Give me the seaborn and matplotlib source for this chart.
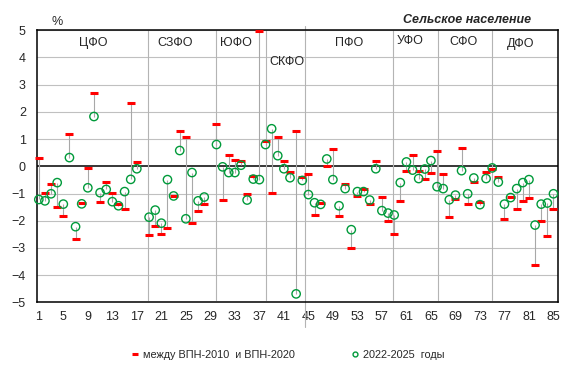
import numpy as np
import pandas as pd
import seaborn as sns
import matplotlib.pyplot as plt
from matplotlib.lines import Line2D

# rural population, average annual change, % (regions numbered 1..85)
region_no = np.arange(1, 86)

between_2010_2020 = [
    0.32, -0.98, -0.65, -1.50, -1.82, 1.17, -2.67, -1.35, -0.05, 2.68,
    -1.30, -0.57, -0.98, -1.39, -1.56, 2.31, 0.14, np.nan, -2.53, -2.20,
    -2.49, -2.27, -1.08, 1.28, 1.08, -2.08, -1.63, -1.38, np.nan, 1.57,
    -1.23, 0.43, 0.23, 0.21, -1.01, -0.36, 4.99, 0.93, -0.97, 1.09,
    0.21, -0.20, 1.28, -0.39, -0.28, -1.79, -1.36, 0.02, 0.64, -1.83,
    -0.65, -3.00, -1.08, -0.84, -1.38, 0.21, -1.12, -2.00, -2.49, -1.27,
    -0.16, 0.43, -0.16, -0.45, -0.23, 0.58, -0.28, -1.85, -1.22, 0.69,
    -1.38, -0.57, -1.30, -0.20, -0.10, -0.39, -1.93, -1.14, -1.56, -1.27,
    -1.15, -3.62, -2.00, -2.56, -1.58,
]

years_2022_2025 = [
    -1.22, -1.27, -1.01, -0.60, -1.39, 0.32, -2.22, -1.38, -0.79, 1.83,
    -0.97, -0.85, -1.30, -1.45, -0.93, -0.48, -0.09, np.nan, -1.87, -1.61,
    -2.09, -0.49, -1.09, 0.58, -1.93, -0.23, -1.27, -1.13, np.nan, 0.80,
    -0.02, -0.23, -0.23, 0.04, -1.24, -0.47, -0.49, 0.80, 1.38, 0.39,
    -0.09, -0.42, -4.69, -0.52, -1.04, -1.34, -1.40, 0.27, -0.49, -1.45,
    -0.82, -2.33, -0.93, -0.93, -1.24, -0.09, -1.63, -1.72, -1.79, -0.60,
    0.16, -0.14, -0.45, -0.10, 0.21, -0.75, -0.82, -1.23, -1.06, -0.16,
    -1.01, -0.43, -1.41, -0.45, -0.06, -0.58, -1.39, -1.15, -0.82, -0.60,
    -0.49, -2.16, -1.39, -1.35, -1.01,
]

districts = ["ЦФО", "СЗФО", "ЮФО", "СКФО", "ПФО", "УФО", "СФО", "ДФО"]
district_label_x = [9.85, 23.3, 33.1, 41.5, 51.7, 61.6, 70.3, 79.6]
district_label_y = [4.55, 4.55, 4.55, 3.84, 4.55, 4.62, 4.58, 4.51]
separators_x = [18.9, 29.95, 38.0, 44.5, 58.8, 66.1, 74.95]

df = pd.DataFrame({"region": region_no,
                   "old": between_2010_2020,
                   "new": years_2022_2025})

sns.set_style("white")
plt.rcParams["font.family"] = ["Liberation Sans", "DejaVu Sans"]

fig = plt.figure(figsize=(5.75, 3.73), dpi=100)
ax = fig.add_axes([0.0643, 0.1895, 0.9057, 0.7293])

green = "#009a3a"

# grid and separators
for v in range(-5, 6):
    if v != 0:
        ax.axhline(v, color="#c0c0c0", lw=0.8, zorder=0)
ax.axhline(0, color="black", lw=1.1, zorder=1)
for i, sx in enumerate(separators_x):
    if i == 3:
        ax.plot([sx, sx], [5.15, -5.9], color="#b4b4b4", lw=0.8,
                clip_on=False, zorder=1)
    else:
        ax.plot([sx, sx], [5.0, -4.9], color="#b4b4b4", lw=0.8, zorder=1)

# connectors between the two periods
d = df.dropna()
ax.vlines(d["region"], d["old"], d["new"], color="#a8a8a8", lw=0.8, zorder=2)

sns.scatterplot(data=df, x="region", y="old", marker="_", color="red",
                s=40, linewidth=2.2, ax=ax, zorder=4, clip_on=False)
sns.scatterplot(data=df, x="region", y="new", marker="o", facecolors="none",
                edgecolor=green, s=36, linewidth=1.0, ax=ax, zorder=5,
                clip_on=False)

for name, lx, ly in zip(districts, district_label_x, district_label_y):
    ax.text(lx, ly, name, ha="center", va="center", fontsize=9)

ax.set_xlim(0.7, 85.7)
ax.set_ylim(-5, 5)
ax.set_xticks(range(1, 86, 4))
ax.set_yticks(range(-5, 6))
ax.tick_params(axis="both", length=0, labelsize=9)
ax.tick_params(axis="y", pad=8)
ax.tick_params(axis="x", pad=6)
ax.set_xlabel("")
ax.set_ylabel("")
for sp in ax.spines.values():
    sp.set_color("black")
    sp.set_linewidth(1.1)

fig.text(0.0986, 0.942, "%", ha="center", va="center", fontsize=9)
fig.text(0.813, 0.946, "Сельское население", ha="center", va="center",
         fontsize=9, fontweight="bold", fontstyle="italic")

handles = [
    Line2D([], [], ls="none", marker="_", color="red", markersize=5,
           markeredgewidth=2.2),
    Line2D([], [], ls="none", marker="o", markerfacecolor="none",
           markeredgecolor=green, markersize=3.5, markeredgewidth=1.0),
]
fig.legend(handles, ["между ВПН-2010  и ВПН-2020", "2022-2025  годы"],
           loc="center", bbox_to_anchor=(0.5, 0.048), ncol=2,
           frameon=False, fontsize=7.8, handlelength=0.8, handletextpad=0.3,
           columnspacing=5.2)

fig.savefig("out.png", dpi=100)
